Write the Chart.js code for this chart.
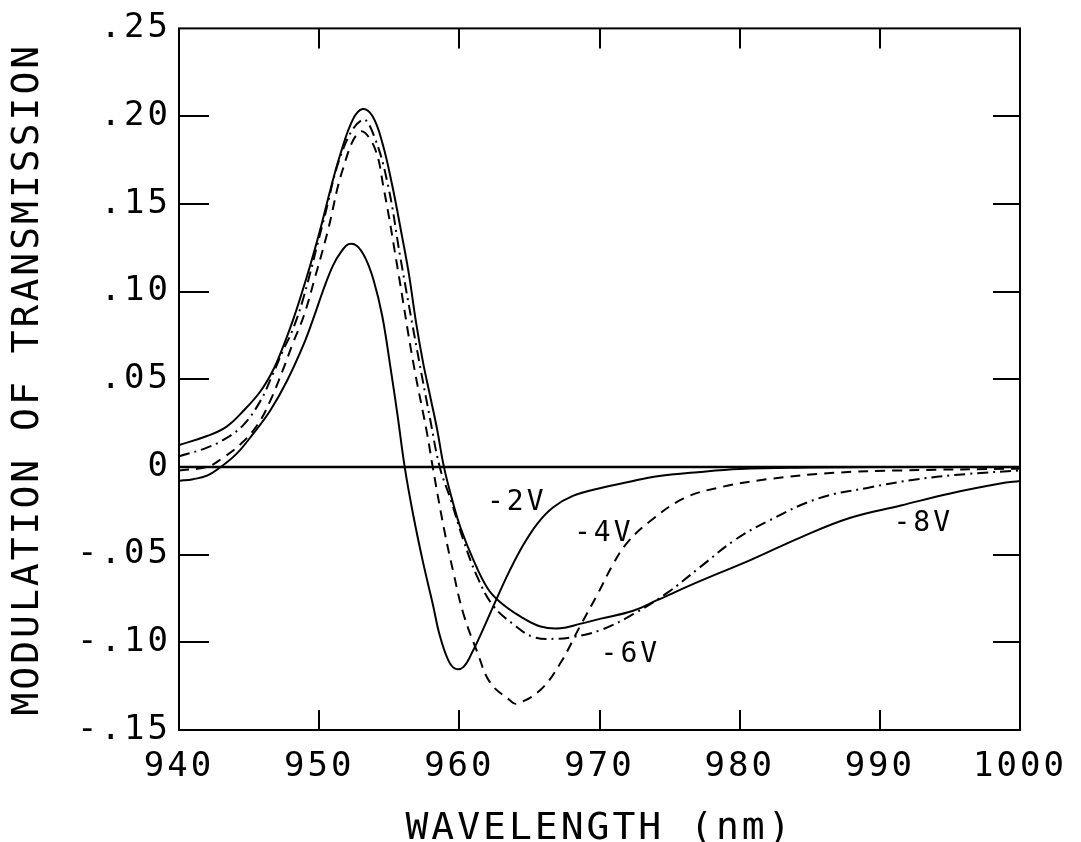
<!DOCTYPE html>
<html><head><meta charset="utf-8">
<script src="https://cdn.jsdelivr.net/npm/chart.js@4.4.1/dist/chart.umd.min.js"></script>
<style>html,body{margin:0;padding:0;background:#fff;}#wrap{width:1081px;height:842px;}</style>
</head><body><div id="wrap"><canvas id="c" width="1081" height="842"></canvas></div>
<script>
// -2V (solid, narrow)
const wl2 = [940,941,942,942.9,944.1,945.3,946.5,947.7,948.9,949.6,950.3,951,951.6,952.1,952.7,953.3,953.9,954.5,955.1,955.6,956.1,956.7,957.4,958.1,958.6,959.2,959.7,960.3,960.9,961.7,962.7,963.6,964.6,965.6,966.7,968.1,970.1,972.4,974,977,980,985,990,1000];
const v2  = [-0.008,-0.007,-0.005,-0.0005,0.0074,0.019,0.032,0.049,0.070,0.085,0.101,0.115,0.123,0.127,0.126,0.119,0.106,0.086,0.056,0.029,0.0,-0.027,-0.054,-0.078,-0.096,-0.110,-0.115,-0.114,-0.106,-0.0925,-0.0745,-0.059,-0.044,-0.032,-0.023,-0.0165,-0.012,-0.008,-0.0055,-0.003,-0.0012,-0.0004,-0.0001,0];
// -4V (dashed)
const wl4 = [940,942,943.1,944.4,945.6,946.5,947.4,948.1,948.9,949.7,950.6,951.7,952.9,953.9,954.6,955.6,956.7,957.7,958.1,958.9,959.6,960.3,961.3,962.2,963.6,964.1,965.8,967.2,968.6,969.9,971,972,973.6,976,978.4,982,986.7,991.5,1000];
const v4  = [-0.002,0.0,0.005,0.013,0.024,0.0375,0.055,0.070,0.086,0.108,0.134,0.170,0.191,0.183,0.159,0.113,0.060,0.019,0.0,-0.035,-0.061,-0.084,-0.106,-0.123,-0.133,-0.135,-0.127,-0.112,-0.091,-0.072,-0.055,-0.043,-0.031,-0.018,-0.012,-0.007,-0.0034,-0.002,-0.001];
// -6V (dash-dot)
const wl6 = [940,942,943.4,944.6,945.8,946.7,947.4,948.1,948.9,950.3,951.7,953.1,953.9,954.9,955.8,957,957.9,958.6,959.4,960.3,961.3,962.4,963.9,965.3,967,968.1,970.1,972.4,974.8,977.2,979.6,982,985.6,989.1,992.7,996.3,1000];
const v6  = [0.006,0.011,0.0165,0.024,0.0375,0.053,0.066,0.078,0.097,0.140,0.181,0.198,0.189,0.161,0.119,0.066,0.028,0.0,-0.019,-0.042,-0.063,-0.079,-0.090,-0.097,-0.098,-0.097,-0.093,-0.084,-0.072,-0.057,-0.042,-0.031,-0.018,-0.012,-0.007,-0.004,-0.002];
// -8V (solid, broad)
const wl8 = [940,942,943.4,944.6,945.8,946.7,947.4,948.1,948.6,949.4,950.1,950.8,951.5,952.4,953.1,953.8,954.5,955.2,955.9,956.4,956.9,957.4,957.9,958.4,958.9,959.5,960.1,961,962,962.9,964.4,965.8,967.2,968.6,970.1,972.4,974.1,977.2,980.8,984.4,987.9,991.5,995.1,998.6,1000];
const v8  = [0.0125,0.0176,0.023,0.032,0.043,0.055,0.068,0.083,0.095,0.116,0.136,0.158,0.178,0.198,0.204,0.200,0.185,0.161,0.132,0.110,0.083,0.060,0.041,0.022,0.0,-0.019,-0.035,-0.053,-0.069,-0.077,-0.0855,-0.091,-0.092,-0.0895,-0.0865,-0.082,-0.076,-0.065,-0.053,-0.040,-0.029,-0.022,-0.015,-0.0095,-0.008];

const xTicks = [940,950,960,970,980,990,1000];
const xTickLabels = ['940','950','960','970','980','990','1000'];
const yTicks = [-0.15,-0.10,-0.05,0,0.05,0.10,0.15,0.20,0.25];
const yTickLabels = ['-.15','-.10','-.05','0','.05','.10','.15','.20','.25'];

const seriesNames = ['-2V','-4V','-6V','-8V'];
const nameX = [964.1,970.3,972.2,993.1];
const nameY = [-0.0205,-0.038,-0.107,-0.0324];

const FONT = "'DejaVu Sans Mono', 'Liberation Mono', monospace";
const pts = (xs, ys) => xs.map((x, i) => ({x: x, y: ys[i]}));

const framePlugin = {
  id: 'frame',
  beforeDraw(chart) { chart.ctx.letterSpacing = '3px'; },
  afterDatasetsDraw(chart) {
    const ctx = chart.ctx, sx = chart.scales.x, sy = chart.scales.y;
    ctx.save();
    ctx.fillStyle = '#000';
    ctx.font = '28px ' + FONT;
    ctx.textAlign = 'center';
    ctx.textBaseline = 'middle';
    ctx.letterSpacing = '3px';
    seriesNames.forEach((n, i) => ctx.fillText(n, sx.getPixelForValue(nameX[i]), sy.getPixelForValue(nameY[i])));
    ctx.restore();
  },
  afterDraw(chart) {
    const ctx = chart.ctx, a = chart.chartArea, sx = chart.scales.x, sy = chart.scales.y;
    ctx.save();
    ctx.strokeStyle = '#000';
    ctx.lineWidth = 2;
    ctx.strokeRect(a.left, a.top, a.right - a.left, a.bottom - a.top);
    ctx.beginPath();
    xTicks.slice(1, -1).forEach(v => {
      const px = Math.round(sx.getPixelForValue(v));
      ctx.moveTo(px, a.bottom); ctx.lineTo(px, a.bottom - 20);
      ctx.moveTo(px, a.top); ctx.lineTo(px, a.top + 20);
    });
    yTicks.slice(1, -1).forEach(v => {
      const py = Math.round(sy.getPixelForValue(v));
      ctx.moveTo(a.left, py); ctx.lineTo(a.left + 30, py);
      ctx.moveTo(a.right, py); ctx.lineTo(a.right - 27, py);
    });
    ctx.stroke();
    ctx.restore();
  }
};

const lineDs = (data, dash, w) => ({
  data: data, borderColor: '#000', borderWidth: w || 2, borderDash: dash || [],
  pointRadius: 0, fill: false, tension: 0.4
});

new Chart(document.getElementById('c'), {
  type: 'line',
  data: {
    datasets: [
      lineDs([{x:940,y:0},{x:1000,y:0}], [], 2.5),
      lineDs(pts(wl8, v8)),
      lineDs(pts(wl6, v6), [11,5,2,5]),
      lineDs(pts(wl4, v4), [10,7]),
      lineDs(pts(wl2, v2))
    ]
  },
  options: {
    responsive: false,
    devicePixelRatio: 1,
    animation: false,
    layout: { padding: { left: 0, top: 26, right: 61, bottom: 0 } },
    plugins: { legend: { display: false }, tooltip: { enabled: false } },
    scales: {
      x: {
        type: 'linear', min: 940, max: 1000,
        afterBuildTicks: s => { s.ticks = xTicks.map(v => ({value: v})); },
        afterFit: s => { s.height = 112; },
        grid: { display: false, drawTicks: false },
        border: { display: false },
        ticks: {
          autoSkip: false, maxRotation: 0, padding: 17, color: '#000',
          font: { family: FONT, size: 34 },
          callback: v => xTickLabels[xTicks.indexOf(v)]
        },
        title: {
          display: true, text: 'WAVELENGTH (nm)', color: '#000', padding: 0,
          font: { family: FONT, size: 38, lineHeight: 0.7 }
        }
      },
      y: {
        type: 'linear', min: -0.15, max: 0.25,
        afterBuildTicks: s => { s.ticks = yTicks.map(v => ({value: v})); },
        afterFit: s => { s.width = 179; },
        grid: { display: false, drawTicks: false },
        border: { display: false },
        ticks: {
          autoSkip: false, padding: 8, color: '#000',
          font: { family: FONT, size: 34 },
          callback: v => {
            let best = 0;
            yTicks.forEach((t, i) => { if (Math.abs(t - v) < Math.abs(yTicks[best] - v)) best = i; });
            return yTickLabels[best];
          }
        },
        title: {
          display: true, text: 'MODULATION OF TRANSMISSION', color: '#000',
          padding: { top: 5, bottom: 0 },
          font: { family: FONT, size: 38, lineHeight: 1.2 }
        }
      }
    }
  },
  plugins: [framePlugin]
});
</script>
</body></html>
